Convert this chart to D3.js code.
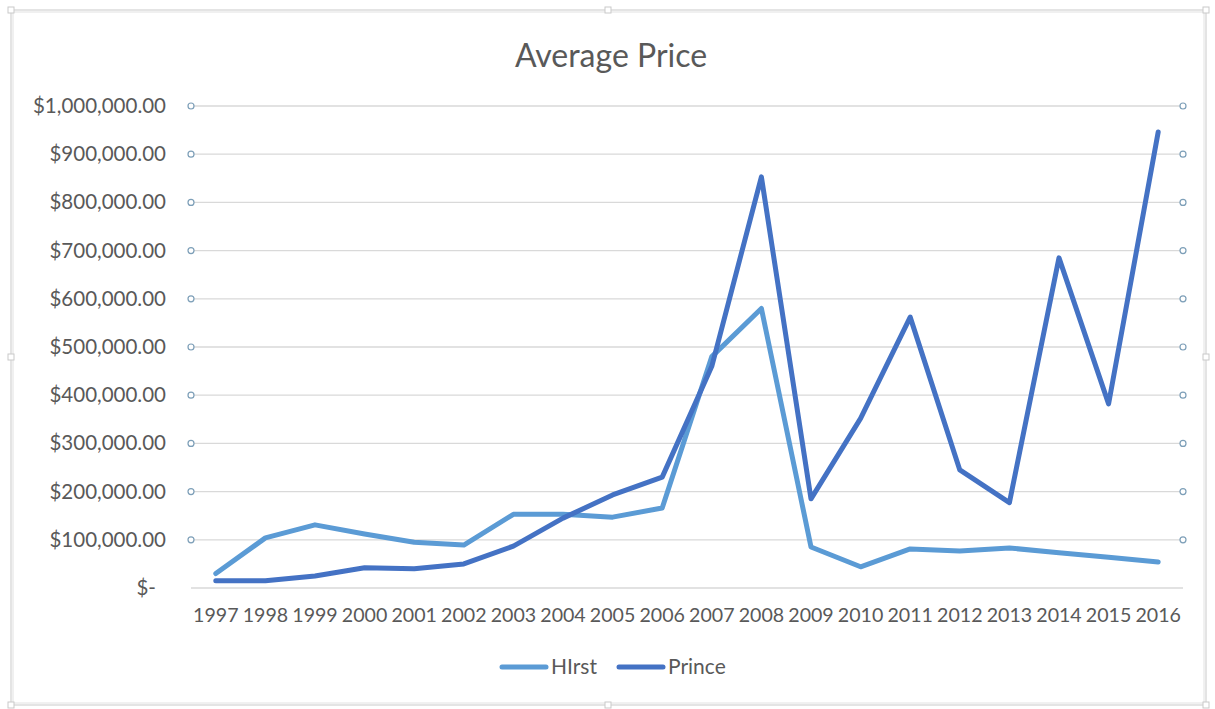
<!DOCTYPE html>
<html>
<head>
<meta charset="utf-8">
<script src="https://cdn.jsdelivr.net/npm/d3@7"></script>
<style>
  html, body { margin: 0; padding: 0; background: #ffffff; }
  svg { display: block; }
  text { font-family: Lato, "Open Sans", sans-serif; fill: #595959; }
</style>
</head>
<body>
<svg id="chart" width="1215" height="709"></svg>
<script>
const years = ["1997","1998","1999","2000","2001","2002","2003","2004","2005","2006","2007","2008","2009","2010","2011","2012","2013","2014","2015","2016"];
const hirst = [30000,104000,131000,112000,95000,89000,153000,153000,147000,166000,480000,580000,85000,44000,81000,77000,83000,73000,64000,54000];
const prince = [15000,15000,25000,42000,40000,50000,87000,145000,193000,230000,460000,853000,185000,352000,562000,245000,177000,685000,382000,946000];
const yTicks = [0,100000,200000,300000,400000,500000,600000,700000,800000,900000,1000000];
const seriesNames = ["HIrst","Prince"];
const seriesColors = ["#5B9BD5","#4472C4"];
const title = "Average Price";

const svg = d3.select("#chart");
const plot = {left: 191, right: 1183, top: 106, bottom: 588};

// outer frame (chart area border, double light line)
svg.append("rect").attr("x", 11).attr("y", 10).attr("width", 1195).attr("height", 695)
  .attr("fill", "none").attr("stroke", "#c9c9c9").attr("stroke-width", 1);
svg.append("rect").attr("x", 13).attr("y", 12).attr("width", 1191).attr("height", 691)
  .attr("fill", "none").attr("stroke", "#e2e2e2").attr("stroke-width", 1);
// small handles
[[11,10],[608,10],[1206,10],[11,357],[1206,357],[11,705],[608,705],[1206,705]].forEach(p => {
  svg.append("rect").attr("x", p[0]-3).attr("y", p[1]-3).attr("width", 6).attr("height", 6)
    .attr("fill", "#fff").attr("stroke", "#c9c9c9");
});

const x = d3.scaleBand().domain(years).range([plot.left, plot.right]);
const xc = d => x(d) + x.bandwidth()/2;
const y = d3.scaleLinear().domain([0, 1000000]).range([plot.bottom, plot.top]);

// gridlines
svg.append("g").selectAll("line").data(yTicks).join("line")
  .attr("x1", plot.left).attr("x2", plot.right)
  .attr("y1", d => y(d)).attr("y2", d => y(d))
  .attr("stroke", "#d9d9d9").attr("stroke-width", 1.3);

// gridline selection handles
const handleTicks = yTicks.filter(d => d > 0);
[plot.left, plot.right].forEach(px => {
  svg.append("g").selectAll("circle").data(handleTicks).join("circle")
    .attr("cx", px).attr("cy", d => y(d)).attr("r", 3)
    .attr("fill", "#fff").attr("stroke", "#7d9fb8").attr("stroke-width", 1.2);
});

// y axis labels
const fmt = d3.format("$,.2f");
const yAxis = d3.axisLeft(y).tickValues(yTicks).tickSize(0).tickPadding(0)
  .tickFormat(d => d === 0 ? "$-" : fmt(d));
const gy = svg.append("g").attr("transform", `translate(166,0)`).call(yAxis);
gy.select(".domain").remove();
gy.selectAll("text").style("font-size", "20.5px").attr("fill", "#595959")
  .attr("dx", d => d === 0 ? -10 : 0);

// x axis labels
const xAxis = d3.axisBottom(x).tickSize(0).tickPadding(0);
const gx = svg.append("g").attr("transform", `translate(0,${plot.bottom + 20})`).call(xAxis);
gx.select(".domain").remove();
gx.selectAll("text").style("font-size", "19.6px").attr("fill", "#595959");

// lines
const line = d3.line().x((d, i) => xc(years[i])).y(d => y(d)).curve(d3.curveLinear);
[hirst, prince].forEach((s, k) => {
  svg.append("path").datum(s).attr("d", line)
    .attr("fill", "none").attr("stroke", seriesColors[k]).attr("stroke-width", 5)
    .attr("stroke-linejoin", "round").attr("stroke-linecap", "round");
});

// title
svg.append("text").attr("x", 611).attr("y", 67).attr("text-anchor", "middle")
  .style("font-size", "32px").text(title);

// legend
const legendItems = [{x: 500}, {x: 617}];
seriesNames.forEach((n, k) => {
  const lx = legendItems[k].x;
  svg.append("line").attr("x1", lx + 2).attr("x2", lx + 46).attr("y1", 667).attr("y2", 667)
    .attr("stroke", seriesColors[k]).attr("stroke-width", 5).attr("stroke-linecap", "round");
  svg.append("text").attr("x", lx + 51).attr("y", 674).style("font-size", "21px").text(n);
});
</script>
</body>
</html>
